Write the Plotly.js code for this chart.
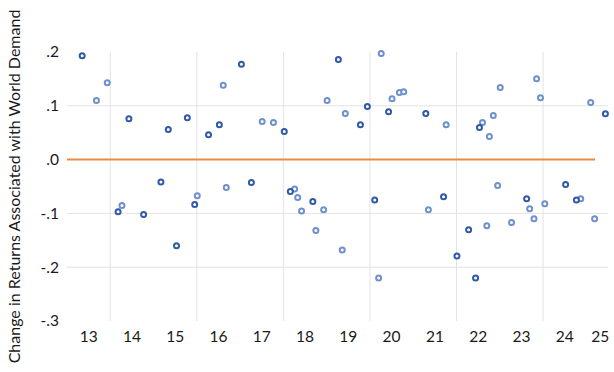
<!DOCTYPE html>
<html>
<head>
<meta charset="utf-8">
<script src="https://cdn.plot.ly/plotly-3.0.1.min.js"></script>
<style>html,body{margin:0;padding:0;background:#fff;}#chart{width:614px;height:372px;}</style>
</head>
<body>
<div id="chart"></div>
<script>
// Darker-blue series
const darkX = [12.85, 13.93, 14.84, 15.28, 16.53, 16.02, 15.77, 17.52, 18.77, 19.28, 19.44, 19.93, 20.79, 24.94, 22.03,
               14.67, 13.68, 14.27, 15.03, 15.45, 16.76, 17.66, 18.18, 19.61, 21.20, 21.51, 21.78, 21.94, 23.12, 24.02, 24.27];
const darkY = [0.193, 0.076, 0.056, 0.078, 0.177, 0.065, 0.046, 0.052, 0.186, 0.065, 0.0985, 0.089, 0.0855, 0.085, 0.0595,
               -0.0415, -0.097, -0.102, -0.160, -0.0835, -0.0425, -0.0595, -0.078, -0.075, -0.069, -0.179, -0.1305, -0.220, -0.073, -0.0465, -0.075];
// Lighter-blue series
const lightX = [13.43, 13.18, 16.11, 18.51, 17.01, 17.27, 19.76, 18.93, 20.01, 20.18, 20.28, 21.26, 22.51, 23.35, 23.44, 24.60, 22.35, 22.10, 22.26,
                13.77, 15.51, 16.18, 17.76, 17.83, 17.92, 18.43, 18.25, 18.86, 19.70, 20.85, 22.20, 22.45, 22.77, 23.19, 23.29, 23.54, 24.37, 24.69];
const lightY = [0.143, 0.110, 0.138, 0.110, 0.071, 0.069, 0.197, 0.0855, 0.113, 0.1245, 0.126, 0.065, 0.134, 0.1505, 0.115, 0.106, 0.082, 0.069, 0.043,
                -0.0855, -0.067, -0.052, -0.0545, -0.0705, -0.0955, -0.093, -0.132, -0.168, -0.220, -0.093, -0.123, -0.048, -0.117, -0.0915, -0.110, -0.082, -0.073, -0.110];
// Zero reference line
const zeroX = [12.5, 24.7];
const zeroY = [0, 0];
// Axis ticks
const xTickLabels = ['13','14','15','16','17','18','19','20','21','22','23','24','25'];
const yTickVals = [0.2, 0.1, 0, -0.1, -0.2, -0.3];
const yTickLabels = ['.2', '.1', '.0', '-.1', '-.2', '-.3'];
const xGridVals = [13.5, 15.5, 17.5, 19.5, 21.5, 23.5];
const yGridVals = [0.1, -0.1, -0.2];

const FONT = 'Lato, "Open Sans", sans-serif';
const TXT = '#1a1a1a';
const GRID = '#e3e3e3';
const xMin = 12.5, xMax = 25.0;

const xTickVals = xTickLabels.map(Number).map(v => Math.min(v, xMax - 0.18));

const shapes = [];
xGridVals.forEach(v => shapes.push({type:'line', xref:'x', yref:'paper', x0:v, x1:v, y0:0, y1:1, layer:'below', line:{color:GRID, width:1}}));
yGridVals.forEach(v => shapes.push({type:'line', xref:'paper', yref:'y', x0:0, x1:1, y0:v, y1:v, layer:'below', line:{color:GRID, width:1}}));

const mk = (c) => ({symbol:'circle', size:5, color:'#ffffff', line:{color:c, width:2}});

const data = [
  {x: zeroX, y: zeroY, type:'scatter', mode:'lines', line:{color:'#e98b43', width:2}, hoverinfo:'skip'},
  {x: lightX, y: lightY, type:'scatter', mode:'markers', marker: mk('#6e91cd'), cliponaxis:false},
  {x: darkX, y: darkY, type:'scatter', mode:'markers', marker: mk('#2f5aa5'), cliponaxis:false}
];

const layout = {
  width: 614, height: 372,
  margin: {l: 67, r: 6, t: 52, b: 51},
  paper_bgcolor: '#fff', plot_bgcolor: '#fff',
  showlegend: false,
  font: {family: FONT, size: 15, color: TXT},
  shapes: shapes,
  xaxis: {
    range: [xMin, xMax], showgrid: false, zeroline: false, showline: false,
    tickmode: 'array', tickvals: xTickVals, ticktext: xTickLabels,
    ticks: '', ticklabelstandoff: 4,
    tickfont: {family: FONT, size: 15.5, color: TXT}
  },
  yaxis: {
    range: [-0.3, 0.2], showgrid: false, zeroline: false, showline: false,
    tickmode: 'array', tickvals: yTickVals, ticktext: yTickLabels,
    ticks: '', ticklabelstandoff: 7,
    tickfont: {family: FONT, size: 15.5, color: TXT},
    title: {text: 'Change in Returns Associated with World Demand', standoff: 15,
            font: {family: FONT, size: 16, color: TXT}}
  }
};

Plotly.newPlot('chart', data, layout, {displayModeBar: false, staticPlot: true});
</script>
</body>
</html>
